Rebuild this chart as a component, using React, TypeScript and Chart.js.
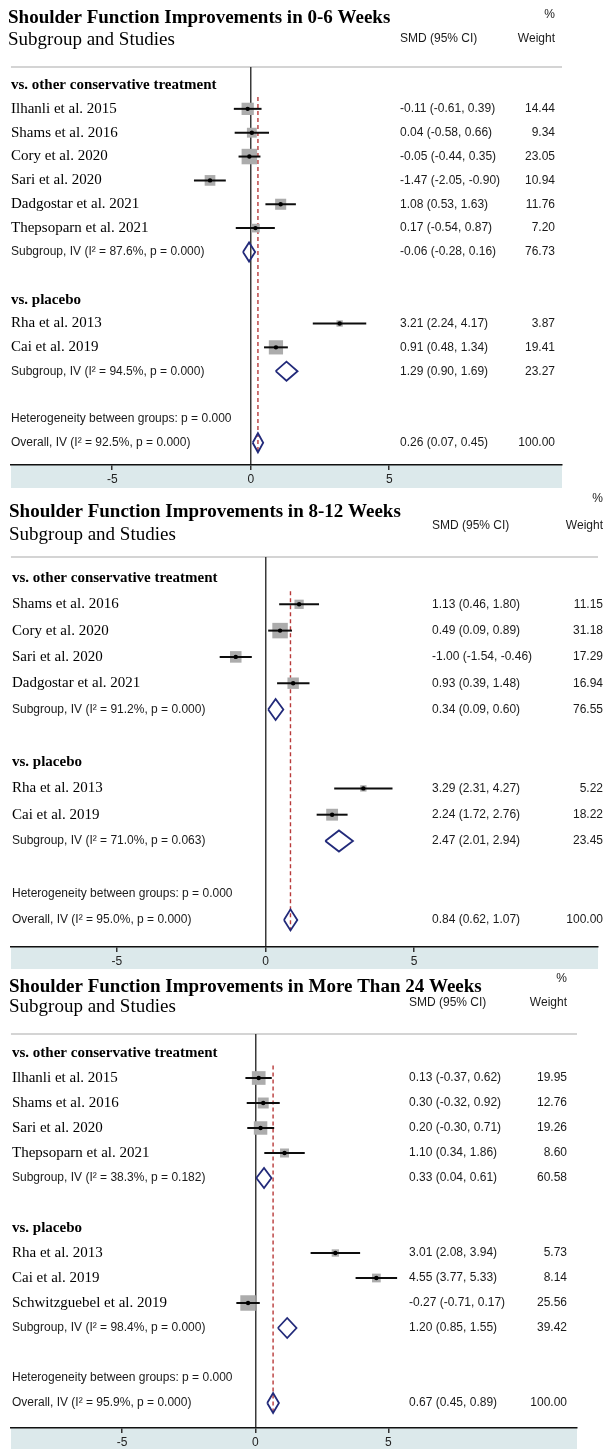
import React, { useEffect, useRef } from "react";
import { Chart, registerables } from "chart.js";

Chart.register(...registerables);

// ---------- shared ----------
const tickValues = [-5, 0, 5];
const headerLeft = "Subgroup and Studies";
const headerEst = "SMD (95% CI)";
const headerPct = "%";
const headerWeight = "Weight";

// ---------- panel 1: 0-6 weeks ----------
const p1Title = "Shoulder Function Improvements in 0-6 Weeks";
const p1Labels = [
  "vs. other conservative treatment",
  "Ilhanli et al. 2015",
  "Shams et al. 2016",
  "Cory et al. 2020",
  "Sari et al. 2020",
  "Dadgostar et al. 2021",
  "Thepsoparn et al. 2021",
  "Subgroup, IV (I² = 87.6%, p = 0.000)",
  "",
  "vs. placebo",
  "Rha et al. 2013",
  "Cai et al. 2019",
  "Subgroup, IV (I² = 94.5%, p = 0.000)",
  "",
  "Heterogeneity between groups: p = 0.000",
  "Overall, IV (I² = 92.5%, p = 0.000)",
];
const p1Kinds = ["group", "study", "study", "study", "study", "study", "study", "pooled", "blank", "group", "study", "study", "pooled", "blank", "het", "overall"];
const p1Est = [null, -0.11, 0.04, -0.05, -1.47, 1.08, 0.17, -0.06, null, null, 3.21, 0.91, 1.29, null, null, 0.26];
const p1Lo = [null, -0.61, -0.58, -0.44, -2.05, 0.53, -0.54, -0.28, null, null, 2.24, 0.48, 0.9, null, null, 0.07];
const p1Hi = [null, 0.39, 0.66, 0.35, -0.9, 1.63, 0.87, 0.16, null, null, 4.17, 1.34, 1.69, null, null, 0.45];
const p1Weight = [null, 14.44, 9.34, 23.05, 10.94, 11.76, 7.2, 76.73, null, null, 3.87, 19.41, 23.27, null, null, 100.0];

// ---------- panel 2: 8-12 weeks ----------
const p2Title = "Shoulder Function Improvements in 8-12 Weeks";
const p2Labels = [
  "vs. other conservative treatment",
  "Shams et al. 2016",
  "Cory et al. 2020",
  "Sari et al. 2020",
  "Dadgostar et al. 2021",
  "Subgroup, IV (I² = 91.2%, p = 0.000)",
  "",
  "vs. placebo",
  "Rha et al. 2013",
  "Cai et al. 2019",
  "Subgroup, IV (I² = 71.0%, p = 0.063)",
  "",
  "Heterogeneity between groups: p = 0.000",
  "Overall, IV (I² = 95.0%, p = 0.000)",
];
const p2Kinds = ["group", "study", "study", "study", "study", "pooled", "blank", "group", "study", "study", "pooled", "blank", "het", "overall"];
const p2Est = [null, 1.13, 0.49, -1.0, 0.93, 0.34, null, null, 3.29, 2.24, 2.47, null, null, 0.84];
const p2Lo = [null, 0.46, 0.09, -1.54, 0.39, 0.09, null, null, 2.31, 1.72, 2.01, null, null, 0.62];
const p2Hi = [null, 1.8, 0.89, -0.46, 1.48, 0.6, null, null, 4.27, 2.76, 2.94, null, null, 1.07];
const p2Weight = [null, 11.15, 31.18, 17.29, 16.94, 76.55, null, null, 5.22, 18.22, 23.45, null, null, 100.0];

// ---------- panel 3: more than 24 weeks ----------
const p3Title = "Shoulder Function Improvements in More Than 24 Weeks";
const p3Labels = [
  "vs. other conservative treatment",
  "Ilhanli et al. 2015",
  "Shams et al. 2016",
  "Sari et al. 2020",
  "Thepsoparn et al. 2021",
  "Subgroup, IV (I² = 38.3%, p = 0.182)",
  "",
  "vs. placebo",
  "Rha et al. 2013",
  "Cai et al. 2019",
  "Schwitzguebel et al. 2019",
  "Subgroup, IV (I² = 98.4%, p = 0.000)",
  "",
  "Heterogeneity between groups: p = 0.000",
  "Overall, IV (I² = 95.9%, p = 0.000)",
];
const p3Kinds = ["group", "study", "study", "study", "study", "pooled", "blank", "group", "study", "study", "study", "pooled", "blank", "het", "overall"];
const p3Est = [null, 0.13, 0.3, 0.2, 1.1, 0.33, null, null, 3.01, 4.55, -0.27, 1.2, null, null, 0.67];
const p3Lo = [null, -0.37, -0.32, -0.3, 0.34, 0.04, null, null, 2.08, 3.77, -0.71, 0.85, null, null, 0.45];
const p3Hi = [null, 0.62, 0.92, 0.71, 1.86, 0.61, null, null, 3.94, 5.33, 0.17, 1.55, null, null, 0.89];
const p3Weight = [null, 19.95, 12.76, 19.26, 8.6, 60.58, null, null, 5.73, 8.14, 25.56, 39.42, null, null, 100.0];

// ---------- styling / layout ----------
const SERIF = "'Liberation Serif', 'Times New Roman', Times, serif";
const SANS = "'Liberation Sans', Arial, Helvetica, sans-serif";
const BAND = "#dce9eb";
const BOX = "#acacac";
const NAVY = "#222a7a";
const RED = "#b83a3a";
const RULE = "#c6c6c6";
const MAX_BOX = 15.5;

type Layout = {
  height: number;
  left: number;
  right: number;
  zeroPx: number;
  pxPerUnit: number;
  grayY: number;
  row0: number;
  rowH: number;
  axisY: number;
  estX: number;
  wtX: number;
  labelX: number;
  titleX: number;
  titleY: number;
  subY: number;
  colY: number;
  pctY: number;
};

const layout1: Layout = { height: 488, left: 7, right: 562, zeroPx: 248.5, pxPerUnit: 27.9, grayY: 67, row0: 85, rowH: 23.85, axisY: 465, estX: 400, wtX: 555, labelX: 11, titleX: 8, titleY: 23, subY: 45, colY: 42, pctY: 18 };
const layout2: Layout = { height: 481, left: 7, right: 609, zeroPx: 268, pxPerUnit: 30.5, grayY: 69, row0: 90, rowH: 26.3, axisY: 459, estX: 432, wtX: 603, labelX: 12, titleX: 9, titleY: 29, subY: 52, colY: 41, pctY: 14 };
const layout3: Layout = { height: 480, left: 7, right: 577, zeroPx: 253, pxPerUnit: 26.8, grayY: 65, row0: 84, rowH: 25, axisY: 459, estX: 409, wtX: 567, labelX: 12, titleX: 9, titleY: 23, subY: 43, colY: 37, pctY: 13 };

type PanelProps = {
  title: string;
  labels: string[];
  kinds: string[];
  est: (number | null)[];
  lo: (number | null)[];
  hi: (number | null)[];
  weight: (number | null)[];
  L: Layout;
};

function fmt(v: number) {
  return v.toFixed(2);
}

function ForestPanel({ title, labels, kinds, est, lo, hi, weight, L }: PanelProps) {
  const ref = useRef<HTMLCanvasElement | null>(null);

  useEffect(() => {
    if (!ref.current) return;
    const xMin = (L.left - L.zeroPx) / L.pxPerUnit;
    const xMax = (L.right - L.zeroPx) / L.pxPerUnit;
    const yMin = (L.grayY - L.row0) / L.rowH;
    const yMax = (L.axisY - L.row0) / L.rowH;
    const overallIdx = kinds.indexOf("overall");
    const overall = est[overallIdx] as number;
    const dHalf = 0.4;

    const maxW = Math.max(...kinds.map((k, i) => (k === "study" ? (weight[i] as number) : 0)));

    const datasets: any[] = [];

    // reference (overall effect) dashed line
    datasets.push({
      data: [
        { x: overall, y: 0.5 },
        { x: overall, y: overallIdx + dHalf },
      ],
      showLine: true,
      borderColor: RED,
      borderWidth: 1.4,
      borderDash: [4, 3],
      pointRadius: 0,
      order: 6,
    });

    // study boxes + CI lines + centre dots
    const boxPts: any[] = [];
    const boxR: number[] = [];
    kinds.forEach((k, i) => {
      if (k !== "study") return;
      const e = est[i] as number;
      const w = weight[i] as number;
      boxPts.push({ x: e, y: i });
      boxR.push((MAX_BOX * Math.sqrt(w / maxW)) / Math.SQRT2);
      datasets.push({
        data: [
          { x: lo[i], y: i },
          { x: hi[i], y: i },
        ],
        showLine: true,
        borderColor: "#0d0d0d",
        borderWidth: 2,
        pointRadius: 0,
        order: 3,
      });
    });
    datasets.push({
      data: boxPts,
      pointStyle: "rect",
      pointRadius: boxR,
      pointBackgroundColor: BOX,
      pointBorderWidth: 0,
      pointBorderColor: BOX,
      order: 4,
    });
    datasets.push({
      data: boxPts,
      pointStyle: "circle",
      pointRadius: 2.2,
      pointBackgroundColor: "#000",
      pointBorderWidth: 0,
      order: 2,
    });

    // pooled diamonds
    kinds.forEach((k, i) => {
      if (k !== "pooled" && k !== "overall") return;
      const e = est[i] as number;
      datasets.push({
        data: [
          { x: lo[i], y: i },
          { x: e, y: i - dHalf },
          { x: hi[i], y: i },
          { x: e, y: i + dHalf },
          { x: lo[i], y: i },
        ],
        showLine: true,
        borderColor: NAVY,
        borderWidth: 1.8,
        borderJoinStyle: "miter",
        pointRadius: 0,
        fill: false,
        order: 1,
      });
    });

    const decor = {
      id: "forestDecor",
      beforeDraw(chart: any) {
        const { ctx, chartArea: a, height } = chart;
        ctx.save();
        ctx.fillStyle = BAND;
        ctx.fillRect(a.left, a.bottom, a.right - a.left, height - a.bottom);
        ctx.strokeStyle = RULE;
        ctx.lineWidth = 1.5;
        ctx.beginPath();
        ctx.moveTo(a.left, a.top);
        ctx.lineTo(a.right, a.top);
        ctx.stroke();
        ctx.restore();
      },
      afterDraw(chart: any) {
        const { ctx } = chart;
        const ys = chart.scales.y;
        ctx.save();
        ctx.fillStyle = "#000";
        ctx.textAlign = "left";
        ctx.textBaseline = "alphabetic";
        ctx.font = `bold 19px ${SERIF}`;
        ctx.fillText(title, L.titleX, L.titleY);
        ctx.font = `19px ${SERIF}`;
        ctx.fillText(headerLeft, L.titleX, L.subY);
        ctx.fillStyle = "#1a1a1a";
        ctx.font = `12px ${SANS}`;
        ctx.fillText(headerEst, L.estX, L.colY);
        ctx.textAlign = "right";
        ctx.fillText(headerWeight, L.wtX, L.colY);
        ctx.fillText(headerPct, L.wtX, L.pctY);

        ctx.textBaseline = "middle";
        labels.forEach((lab, i) => {
          const k = kinds[i];
          const y = ys.getPixelForValue(i);
          ctx.textAlign = "left";
          if (k === "group") {
            ctx.fillStyle = "#000";
            ctx.font = `bold 15px ${SERIF}`;
          } else if (k === "study") {
            ctx.fillStyle = "#000";
            ctx.font = `15px ${SERIF}`;
          } else {
            ctx.fillStyle = "#1a1a1a";
            ctx.font = `12px ${SANS}`;
          }
          if (lab) ctx.fillText(lab, L.labelX, y);
          const e = est[i];
          if (e !== null && e !== undefined) {
            ctx.fillStyle = "#1a1a1a";
            ctx.font = `12px ${SANS}`;
            ctx.textAlign = "left";
            ctx.fillText(`${fmt(e)} (${fmt(lo[i] as number)}, ${fmt(hi[i] as number)})`, L.estX, y);
            ctx.textAlign = "right";
            ctx.fillText(fmt(weight[i] as number), L.wtX, y);
          }
        });
        ctx.restore();
      },
    };

    const chart = new Chart(ref.current, {
      type: "scatter",
      data: { datasets },
      options: {
        animation: false,
        responsive: false,
        events: [],
        layout: { padding: { left: L.left, right: 609 - L.right, top: L.grayY, bottom: 0 } },
        plugins: { legend: { display: false }, tooltip: { enabled: false }, title: { display: false } },
        scales: {
          x: {
            type: "linear",
            position: "bottom",
            min: xMin,
            max: xMax,
            afterBuildTicks: (axis: any) => {
              axis.ticks = tickValues.map((v) => ({ value: v }));
            },
            afterFit: (axis: any) => {
              axis.height = L.height - L.axisY;
            },
            grid: {
              drawOnChartArea: true,
              drawTicks: true,
              tickLength: 5,
              lineWidth: 1.5,
              color: (c: any) => (c.tick && c.tick.value === 0 ? "#3a3a3a" : "rgba(0,0,0,0)"),
              tickColor: "#333",
            },
            border: { display: true, color: "#111", width: 1.6 },
            ticks: {
              font: { family: SANS, size: 12 },
              color: "#222",
              padding: 2,
              maxRotation: 0,
              autoSkip: false,
            },
          },
          y: {
            type: "linear",
            display: false,
            reverse: true,
            min: yMin,
            max: yMax,
          },
        },
      } as any,
      plugins: [decor],
    });
    return () => chart.destroy();
  }, []);

  return (
    <canvas
      ref={ref}
      width={609}
      height={L.height}
      style={{ display: "block", width: 609, height: L.height }}
    />
  );
}

export default function App() {
  useEffect(() => {
    document.body.style.margin = "0";
    document.body.style.background = "#fff";
  }, []);
  return (
    <div style={{ width: 609, background: "#fff" }}>
      <ForestPanel title={p1Title} labels={p1Labels} kinds={p1Kinds} est={p1Est} lo={p1Lo} hi={p1Hi} weight={p1Weight} L={layout1} />
      <ForestPanel title={p2Title} labels={p2Labels} kinds={p2Kinds} est={p2Est} lo={p2Lo} hi={p2Hi} weight={p2Weight} L={layout2} />
      <ForestPanel title={p3Title} labels={p3Labels} kinds={p3Kinds} est={p3Est} lo={p3Lo} hi={p3Hi} weight={p3Weight} L={layout3} />
    </div>
  );
}
